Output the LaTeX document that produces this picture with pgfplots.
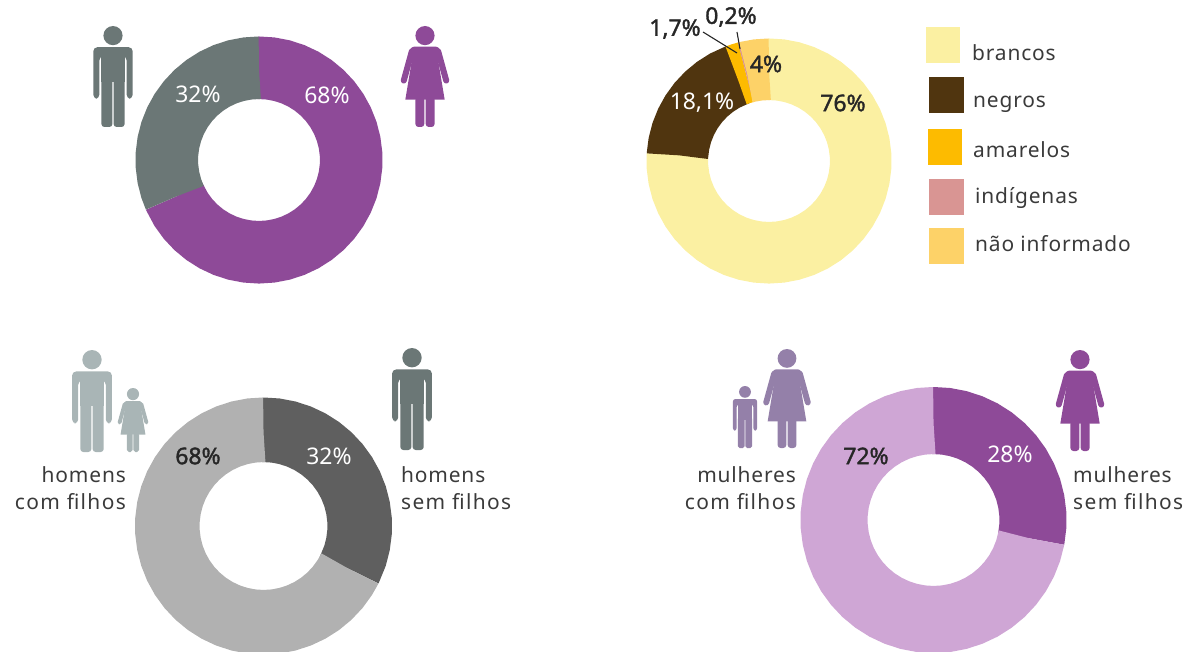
\documentclass[border=0pt]{standalone}
\usepackage{pgfplots}
\pgfplotsset{compat=1.18}
\usepgfplotslibrary{polar}
\usepackage{fontspec}
\setmainfont{Noto Sans}
\newfontfamily\semib[FakeBold=1.6]{Noto Sans}
\definecolor{cgray}{HTML}{6B7776}
\definecolor{cpurple}{HTML}{8E4A98}
\definecolor{clgray}{HTML}{A9B5B6}
\definecolor{cmauve}{HTML}{9480A9}
\definecolor{cdark}{HTML}{5F5F5F}
\definecolor{clight}{HTML}{B1B1B1}
\definecolor{clilac}{HTML}{CFA6D5}
\definecolor{ccream}{HTML}{FBF0A2}
\definecolor{cbrown}{HTML}{50350F}
\definecolor{cyellow}{HTML}{FDBB00}
\definecolor{cpink}{HTML}{D99593}
\definecolor{corange}{HTML}{FDD268}
\definecolor{ctext}{HTML}{3A3A3A}
\pgfplotsset{donutax/.style={scale only axis,width=280bp,height=280bp,ymin=0,ymax=140,
  hide axis,clip=false,anchor=origin,
  x coord trafo/.code={\pgfmathparse{90-3.6*##1}\pgfmathresult},
  every axis plot/.append style={line cap=butt,line join=miter,no markers,fill=none}}}
\newcommand{\man}[4]{\begin{scope}[shift={(#1,#2)},x=#3 bp,y=#3 bp,#4]
 \fill (0,-9.5) circle (9.5);
 \fill[rounded corners={#3*4bp}] (-19.5,-21) -- (19.5,-21) -- (19.5,-72) -- (13.5,-72) -- (13.5,-30) -- (-13.5,-30) -- (-13.5,-72) -- (-19.5,-72) -- cycle;
 \fill (-12,-24) rectangle (12,-55);
 \fill[rounded corners={#3*3bp}] (-11.5,-50) -- (-0.6,-50) -- (-0.6,-100) -- (-11.5,-100) -- cycle;
 \fill[rounded corners={#3*3bp}] (0.6,-50) -- (11.5,-50) -- (11.5,-100) -- (0.6,-100) -- cycle;
\end{scope}}
\newcommand{\woman}[4]{\begin{scope}[shift={(#1,#2)},x=#3 bp,y=#3 bp,#4]
 \fill (0,-9.5) circle (9.5);
 \fill[rounded corners={#3*3bp}] (-14,-20.5) -- (14,-20.5) -- (15,-27) -- (-15,-27) -- cycle;
 \fill (-11,-22) -- (11,-22) -- (19.5,-73) -- (-19.5,-73) -- cycle;
 \draw[line width={#3*6bp},line cap=round] (13,-25) -- (21,-54);
 \draw[line width={#3*6bp},line cap=round] (-13,-25) -- (-21,-54);
 \fill[rounded corners={#3*3bp}] (-9.5,-70) -- (-0.7,-70) -- (-0.7,-100) -- (-9.5,-100) -- cycle;
 \fill[rounded corners={#3*3bp}] (0.7,-70) -- (9.5,-70) -- (9.5,-100) -- (0.7,-100) -- cycle;
\end{scope}}
\begin{document}
\begin{tikzpicture}[x=1bp,y=-1bp,
  txt/.style={font=\fontsize{21}{24}\selectfont\addfontfeatures{LetterSpace=4},text=ctext,inner sep=0pt},
  txf/.style={font=\fontsize{21}{24}\selectfont\addfontfeatures{LetterSpace=6.5},text=ctext,inner sep=0pt},
  pw/.style={font=\fontsize{23}{26}\selectfont,text=white,inner sep=0pt},
  pb/.style={font=\fontsize{23}{26}\selectfont\semib,text=black!85,inner sep=0pt}]
\useasboundingbox (0,0) rectangle (1194,652);
\clip (0,0) rectangle (1194,652);
% top-left
\begin{polaraxis}[donutax,at={(259bp,-160bp)}]
\addplot[cpurple,line width=62.5bp] coordinates {(-0.1,92.25)(-0.08,92.25)(2,92.25)(4,92.25)(6,92.25)(8,92.25)(10,92.25)(12,92.25)(14,92.25)(16,92.25)(18,92.25)(20,92.25)(22,92.25)(24,92.25)(26,92.25)(28,92.25)(30,92.25)(32,92.25)(34,92.25)(36,92.25)(38,92.25)(40,92.25)(42,92.25)(44,92.25)(46,92.25)(48,92.25)(50,92.25)(52,92.25)(54,92.25)(56,92.25)(58,92.25)(60,92.25)(62,92.25)(64,92.25)(66,92.25)(68.38,92.25)(68.4,92.25)};
\addplot[cgray,line width=62.5bp] coordinates {(68.4,92.25)(68.42,92.25)(70,92.25)(72,92.25)(74,92.25)(76,92.25)(78,92.25)(80,92.25)(82,92.25)(84,92.25)(86,92.25)(88,92.25)(90,92.25)(92,92.25)(94,92.25)(96,92.25)(98,92.25)(99.98,92.25)(100,92.25)};
\end{polaraxis}
% top-right
\begin{polaraxis}[donutax,at={(769bp,-161bp)}]
\addplot[ccream,line width=61.5bp] coordinates {(-0.1,91.75)(-0.08,91.75)(2,91.75)(4,91.75)(6,91.75)(8,91.75)(10,91.75)(12,91.75)(14,91.75)(16,91.75)(18,91.75)(20,91.75)(22,91.75)(24,91.75)(26,91.75)(28,91.75)(30,91.75)(32,91.75)(34,91.75)(36,91.75)(38,91.75)(40,91.75)(42,91.75)(44,91.75)(46,91.75)(48,91.75)(50,91.75)(52,91.75)(54,91.75)(56,91.75)(58,91.75)(60,91.75)(62,91.75)(64,91.75)(66,91.75)(68,91.75)(70,91.75)(72,91.75)(74,91.75)(76.08,91.75)(76.1,91.75)};
\addplot[cbrown,line width=61.5bp] coordinates {(76,91.75)(76.02,91.75)(78,91.75)(80,91.75)(82,91.75)(84,91.75)(86,91.75)(88,91.75)(90,91.75)(92,91.75)(94.28,91.75)(94.3,91.75)};
\addplot[cyellow,line width=61.5bp] coordinates {(94.2,91.75)(94.22,91.75)(95,91.75)(95.88,91.75)(95.9,91.75)};
\addplot[cpink,line width=61.5bp] coordinates {(95.9,91.75)(96,91.75)(96.15,91.75)};
\addplot[corange,line width=61.5bp] coordinates {(96.1,91.75)(96.12,91.75)(98,91.75)(99.98,91.75)(100,91.75)};
\end{polaraxis}
% bottom-left
\begin{polaraxis}[donutax,at={(263.5bp,-526bp)}]
\addplot[cdark,line width=64.5bp] coordinates {(-0.1,96.25)(-0.08,96.25)(2,96.25)(4,96.25)(6,96.25)(8,96.25)(10,96.25)(12,96.25)(14,96.25)(16,96.25)(18,96.25)(20,96.25)(22,96.25)(24,96.25)(26,96.25)(28,96.25)(30,96.25)(32.38,96.25)(32.4,96.25)};
\addplot[clight,line width=64.5bp] coordinates {(32.4,96.25)(32.42,96.25)(34,96.25)(36,96.25)(38,96.25)(40,96.25)(42,96.25)(44,96.25)(46,96.25)(48,96.25)(50,96.25)(52,96.25)(54,96.25)(56,96.25)(58,96.25)(60,96.25)(62,96.25)(64,96.25)(66,96.25)(68,96.25)(70,96.25)(72,96.25)(74,96.25)(76,96.25)(78,96.25)(80,96.25)(82,96.25)(84,96.25)(86,96.25)(88,96.25)(90,96.25)(92,96.25)(94,96.25)(96,96.25)(98,96.25)(99.98,96.25)(100,96.25)};
\end{polaraxis}
% bottom-right
\begin{polaraxis}[donutax,at={(933.5bp,-520bp)}]
\addplot[cpurple,line width=67bp] coordinates {(-0.1,99.5)(-0.08,99.5)(2,99.5)(4,99.5)(6,99.5)(8,99.5)(10,99.5)(12,99.5)(14,99.5)(16,99.5)(18,99.5)(20,99.5)(22,99.5)(24,99.5)(26,99.5)(27.98,99.5)(28,99.5)};
\addplot[clilac,line width=67bp] coordinates {(28,99.5)(28.02,99.5)(30,99.5)(32,99.5)(34,99.5)(36,99.5)(38,99.5)(40,99.5)(42,99.5)(44,99.5)(46,99.5)(48,99.5)(50,99.5)(52,99.5)(54,99.5)(56,99.5)(58,99.5)(60,99.5)(62,99.5)(64,99.5)(66,99.5)(68,99.5)(70,99.5)(72,99.5)(74,99.5)(76,99.5)(78,99.5)(80,99.5)(82,99.5)(84,99.5)(86,99.5)(88,99.5)(90,99.5)(92,99.5)(94,99.5)(96,99.5)(98,99.5)(99.98,99.5)(100,99.5)};
\end{polaraxis}
% icons
\man{113}{26}{1.01}{cgray,fill=cgray}
\woman{425}{26}{1.01}{cpurple,fill=cpurple}
\man{92}{350}{1.02}{clgray,fill=clgray}
\woman{133}{388}{0.64}{clgray,fill=clgray}
\man{412}{348}{1.02}{cgray,fill=cgray}
\woman{787}{349}{0.99}{cmauve,fill=cmauve}
\man{745}{386}{0.62}{cmauve,fill=cmauve}
\woman{1080}{350}{1.01}{cpurple,fill=cpurple}
% percentage labels
\node[pw] at (198,94) {32\%};
\node[pw] at (327,95) {68\%};
\node[pb] at (843,103) {76\%};
\node[pb] at (766,64) {4\%};
\node[pw] at (702,103) {18,1\%};
\node[pb] at (675,29) {1,7\%};
\node[pb] at (731,17) {0,2\%};
\draw[black!85,line width=1.1bp] (703,32) -- (737,53);
\draw[black!85,line width=1.1bp] (737,32) -- (740,49);
\node[pb] at (198,456) {68\%};
\node[pw] at (329,456) {32\%};
\node[pb] at (866,456) {72\%};
\node[pw] at (1010,454) {28\%};
% group labels
\node[txt,anchor=base east] at (126,482) {homens};
\node[txf,anchor=base east] at (126,509) {com filhos};
\node[txt,anchor=base west] at (401,482) {homens};
\node[txf,anchor=base west] at (401,509) {sem filhos};
\node[txt,anchor=base east] at (796,482) {mulheres};
\node[txf,anchor=base east] at (796,509) {com filhos};
\node[txt,anchor=base west] at (1073,482) {mulheres};
\node[txf,anchor=base west] at (1073,509) {sem filhos};
% legend
\fill[ccream] (926,27) rectangle (960,63);
\fill[cbrown] (929,77) rectangle (964,113);
\fill[cyellow] (928,129) rectangle (962,165);
\fill[cpink] (929,179) rectangle (964,215);
\fill[corange] (929,228) rectangle (964,264);
\node[txt,anchor=base west] at (972,61) {brancos};
\node[txt,anchor=base west] at (973,108) {negros};
\node[txt,anchor=base west] at (973,158) {amarelos};
\node[txt,anchor=base west] at (975,204) {indígenas};
\node[txt,anchor=base west] at (975,251) {não informado};
\end{tikzpicture}
\end{document}
